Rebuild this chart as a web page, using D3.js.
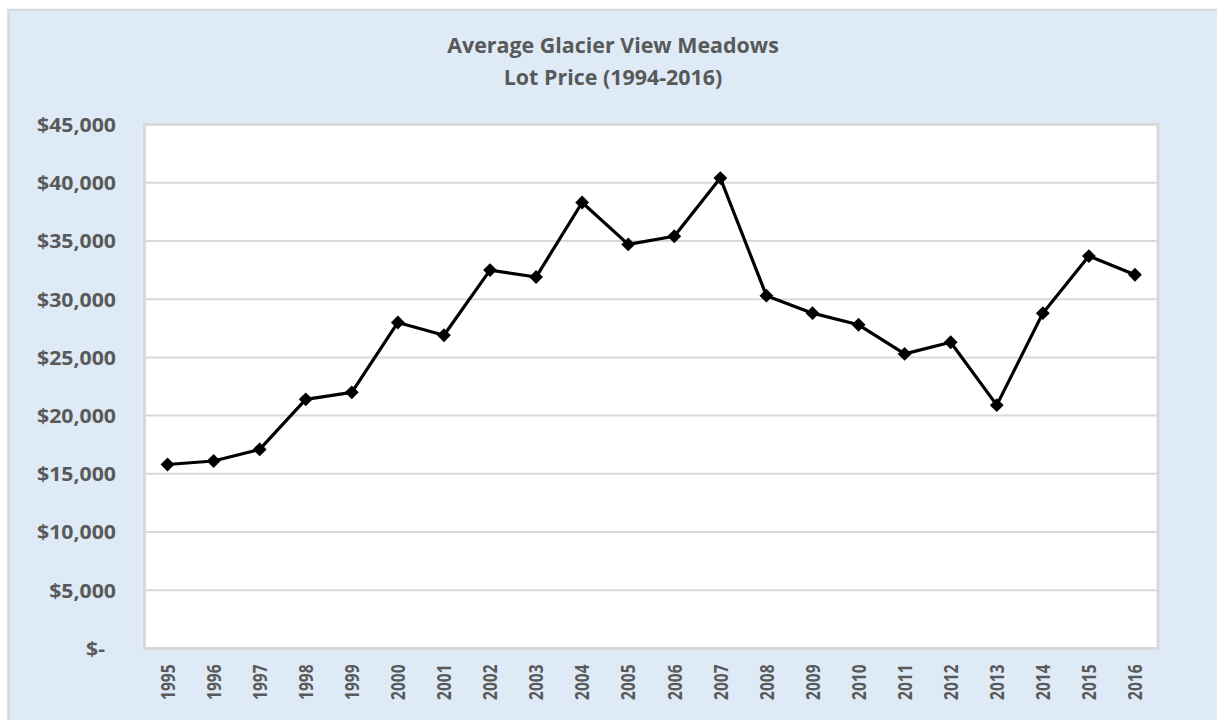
<!DOCTYPE html>
<html><head><meta charset="utf-8">
<script src="https://cdn.jsdelivr.net/npm/d3@7"></script>
<style>body{margin:0;background:#fff;overflow:hidden}</style>
</head><body>
<svg id="c" width="1217" height="720"></svg>
<script>
const years = ["1995","1996","1997","1998","1999","2000","2001","2002","2003","2004","2005","2006","2007","2008","2009","2010","2011","2012","2013","2014","2015","2016"];
const prices = [15800,16100,17100,21400,22000,28000,26900,32500,31900,38300,34700,35400,40400,30300,28800,27800,25300,26300,20900,28800,33700,32100];
const yTicks = [0,5000,10000,15000,20000,25000,30000,35000,40000,45000];
const titleLines = ["Average Glacier View Meadows","Lot Price (1994-2016)"];

const svg = d3.select("#c");
const font = "'Open Sans', Lato, sans-serif";
const textColor = "#595959";

svg.append("rect").attr("x",8.5).attr("y",10).attr("width",1222).attr("height",720)
  .attr("fill","#deebf7").attr("stroke","#d9d9d9").attr("stroke-width",2.5);

const L=144.5, R=1158, T=124.5, B=648.5;
const x = d3.scaleBand().domain(years).range([L,R]).padding(0);
const y = d3.scaleLinear().domain([0,45000]).range([B,T]);

svg.append("rect").attr("x",L).attr("y",T).attr("width",R-L).attr("height",B-T).attr("fill","#fff");

svg.append("g").selectAll("line").data(yTicks).join("line")
  .attr("x1",L).attr("x2",R).attr("y1",d=>y(d)).attr("y2",d=>y(d))
  .attr("stroke","#d9d9d9").attr("stroke-width",2);

svg.append("rect").attr("x",L).attr("y",T).attr("width",R-L).attr("height",B-T)
  .attr("fill","none").attr("stroke","#d9d9d9").attr("stroke-width",3);

// title
const titleX = 613;
svg.append("g").selectAll("text").data(titleLines).join("text")
  .attr("transform",(d,i)=>`translate(${titleX},${53+i*32}) scale(1.02,1)`)
  .attr("text-anchor","middle").attr("font-family",font).attr("font-weight","bold")
  .attr("font-size","21px").attr("fill",textColor).text(d=>d);

// y axis
const yAxis = d3.axisLeft(y).tickValues(yTicks).tickSize(0).tickPadding(0)
  .tickFormat(d => d===0 ? "$-" : "$"+d3.format(",")(d));
const gy = svg.append("g").attr("transform",`translate(${L-28.5},0)`).call(yAxis);
gy.select(".domain").remove();
gy.selectAll("text").attr("x",0).attr("dy","0.36em")
  .attr("transform",d=>`translate(${d===0?-11:0},0) scale(1.12,1)`)
  .attr("font-family",font).attr("font-weight","bold").attr("font-size","19px").attr("fill",textColor);

// x axis
const xAxis = d3.axisBottom(x).tickSize(0).tickPadding(0);
const gx = svg.append("g").attr("transform",`translate(0,${B})`).call(xAxis);
gx.select(".domain").remove();
gx.selectAll("text").attr("x",0).attr("y",0).attr("dy","0.36em")
  .attr("transform",`translate(0,16) rotate(-90) scale(1,1.3)`)
  .attr("text-anchor","end")
  .attr("font-family",font).attr("font-weight","bold").attr("font-size","15.5px").attr("fill",textColor);

// line
const line = d3.line().x((d,i)=>x(years[i])+x.bandwidth()/2).y(d=>y(d));
svg.append("path").datum(prices).attr("d",line).attr("fill","none")
  .attr("stroke","#000").attr("stroke-width",3.2).attr("stroke-linejoin","round");

const sym = d3.symbol().type(d3.symbolSquare).size(96);
svg.append("g").selectAll("path").data(prices).join("path")
  .attr("d",sym)
  .attr("transform",(d,i)=>`translate(${x(years[i])+x.bandwidth()/2},${y(d)}) rotate(45)`)
  .attr("fill","#000");
</script>
</body></html>
